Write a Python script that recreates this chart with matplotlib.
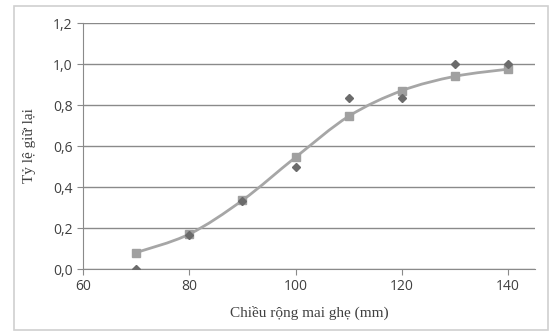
import numpy as np
import matplotlib
matplotlib.use("Agg")
import matplotlib.pyplot as plt
from matplotlib.path import Path
from matplotlib.patches import PathPatch, Rectangle

# data
width_mm = [70, 80, 90, 100, 110, 120, 130, 140]
observed = [0.0, 0.167, 0.333, 0.5, 0.833, 0.833, 1.0, 1.0]
fitted = [0.08, 0.17, 0.335, 0.545, 0.745, 0.87, 0.94, 0.975]
yticks = [0.0, 0.2, 0.4, 0.6, 0.8, 1.0, 1.2]
xticks = [60, 80, 100, 120, 140]


def smooth_path(x, y, t=1.0 / 6):
    # excel-like smoothed line: bezier segments through the points
    x = np.asarray(x, float)
    y = np.asarray(y, float)
    n = len(x)
    verts = [(x[0], y[0])]
    codes = [Path.MOVETO]
    for i in range(n - 1):
        p0 = (x[max(i - 1, 0)], y[max(i - 1, 0)])
        p1 = (x[i], y[i])
        p2 = (x[i + 1], y[i + 1])
        p3 = (x[min(i + 2, n - 1)], y[min(i + 2, n - 1)])
        c1 = (p1[0] + (p2[0] - p0[0]) * t, p1[1] + (p2[1] - p0[1]) * t)
        c2 = (p2[0] - (p3[0] - p1[0]) * t, p2[1] - (p3[1] - p1[1]) * t)
        verts += [c1, c2, p2]
        codes += [Path.CURVE4] * 3
    return Path(verts, codes)


fig = plt.figure(figsize=(5.6, 3.36), dpi=100)
fig.patches.append(Rectangle((14 / 560, 6 / 336), 534 / 560, 324 / 336,
                             transform=fig.transFigure, fill=False,
                             edgecolor="#d0d0d0", linewidth=1.2))
ax = fig.add_axes([0.148, 0.1994, 0.807, 0.7321])

ax.add_patch(PathPatch(smooth_path(width_mm, fitted), fill=False,
                       edgecolor="#a6a6a6", linewidth=2, zorder=3))
ax.plot(width_mm, fitted, linestyle="none", marker="s", markersize=6,
        color="#a0a0a0", zorder=4)
ax.plot(width_mm, observed, linestyle="none", marker="D", markersize=4.5,
        color="#6b6b6b", zorder=5)

ax.set_xlim(60, 145)
ax.set_ylim(0, 1.2)
ax.set_xticks(xticks)
ax.set_yticks(yticks)
ax.set_yticklabels([("%.1f" % v).replace(".", ",") for v in yticks])
ax.grid(axis="y", color="#8a8a8a", linewidth=1)
ax.set_axisbelow(True)
for s in ["top", "right"]:
    ax.spines[s].set_visible(False)
ax.spines["left"].set_color("#8a8a8a")
ax.spines["bottom"].set_color("#8a8a8a")
ax.tick_params(direction="out", length=4, color="#8a8a8a",
               labelcolor="#404040", labelsize=10)
for lab in ax.get_xticklabels() + ax.get_yticklabels():
    lab.set_family("Open Sans")

ax.set_xlabel("Chiều rộng mai ghẹ (mm)", family="Liberation Serif",
              fontsize=11, color="#404040", labelpad=8)
ax.set_ylabel("Tỷ lệ giữ lại", family="Liberation Serif",
              fontsize=11, color="#404040", labelpad=12)

fig.savefig("out.png", dpi=100)
